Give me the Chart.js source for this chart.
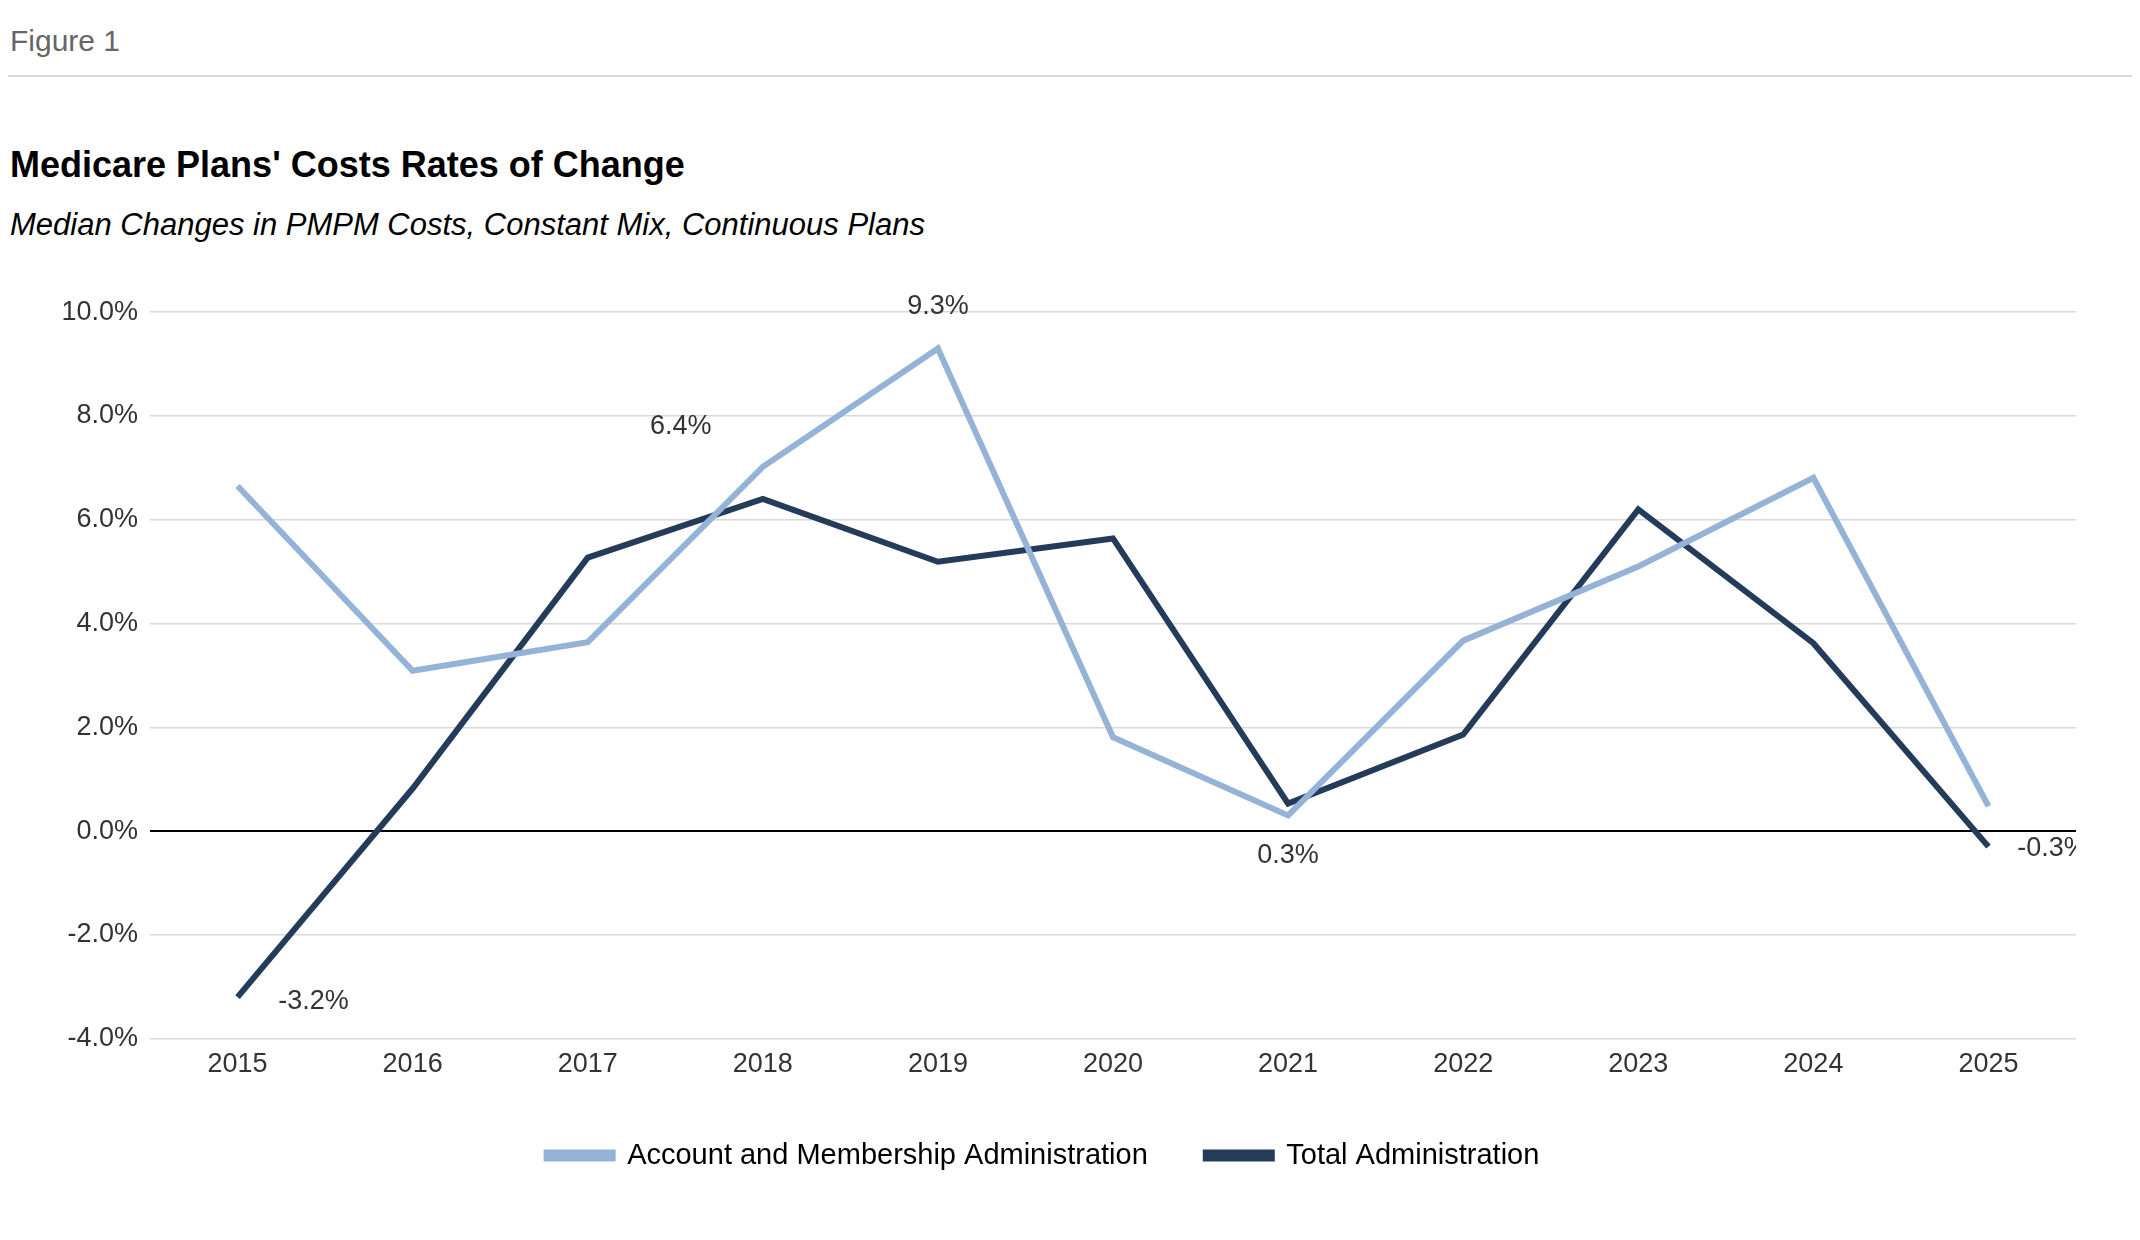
<!DOCTYPE html>
<html><head><meta charset="utf-8">
<script src="https://cdn.jsdelivr.net/npm/chart.js@4"></script>
<style>
body{margin:0;width:2140px;height:1240px;background:#fff;font-family:"Liberation Sans",Arial,sans-serif;position:relative;overflow:hidden}
#fig{position:absolute;left:10px;top:24px;font-size:30px;color:#666}
#hr{position:absolute;left:8px;right:8px;top:75px;border-top:2px solid #d9d9d9}
#title{position:absolute;left:10px;top:144px;font-size:36px;font-weight:bold;color:#000}
#sub{position:absolute;left:10px;top:207px;font-size:31px;font-style:italic;color:#000}
#wrap{position:absolute;left:10px;top:284px;width:2066px;height:916px}
</style></head><body>
<div id="fig">Figure 1</div><div id="hr"></div>
<div id="title">Medicare Plans' Costs Rates of Change</div>
<div id="sub">Median Changes in PMPM Costs, Constant Mix, Continuous Plans</div>
<div id="wrap"><canvas id="c"></canvas></div>
<script>
const years=["2015","2016","2017","2018","2019","2020","2021","2022","2023","2024","2025"];
const accountMembership=[6.65,3.09,3.64,7.02,9.3,1.81,0.3,3.67,5.1,6.81,0.48];
const totalAdmin=[-3.2,0.82,5.27,6.4,5.19,5.64,0.53,1.86,6.2,3.62,-0.3];
const yTicks=[-4,-2,0,2,4,6,8,10];
// [datasetIndex, pointIndex, dx, dy]
const annotations=[[0,4,0,-42],[1,3,-82,-72],[0,6,0,40],[1,10,64,2],[1,0,76,4]];
const labelPlugin={id:'lbl',afterDatasetsDraw(ch){
 const ctx=ch.ctx;ctx.save();ctx.font='27px "Liberation Sans",Arial';ctx.fillStyle='#333';ctx.textAlign='center';ctx.textBaseline='middle';
 annotations.forEach(([d,i,dx,dy])=>{const v=ch.data.datasets[d].data[i];const x=ch.scales.x.getPixelForValue(i);const y=ch.scales.y.getPixelForValue(v);
  ctx.fillText(v.toFixed(1)+'%',x+dx,y+dy);});ctx.restore();}};
new Chart(document.getElementById('c'),{type:'line',
 data:{labels:years,datasets:[
  {label:'Account and Membership Administration',data:accountMembership,borderColor:'#95b3d7',backgroundColor:'#95b3d7',borderWidth:6,pointRadius:0,tension:0},
  {label:'Total Administration',data:totalAdmin,borderColor:'#243c5a',backgroundColor:'#243c5a',borderWidth:6,pointRadius:0,tension:0}]},
 options:{responsive:true,maintainAspectRatio:false,animation:false,
  layout:{padding:{top:20,right:0,bottom:20}},
  plugins:{tooltip:{enabled:false},legend:{position:'bottom',labels:{boxWidth:66,boxHeight:6,padding:58,font:{size:29,family:'"Liberation Sans",Arial'},color:'#000'}}},
  scales:{x:{offset:true,grid:{display:false},border:{display:false},ticks:{font:{size:27,family:'"Liberation Sans",Arial'},color:'#333',padding:2}},
   y:{min:-4,max:10,afterBuildTicks(s){s.ticks=yTicks.map(v=>({value:v}));},afterFit(s){s.width=140;},border:{display:false},
    grid:{color:c=>c.tick&&c.tick.value===0?'#000':'#d9d9d9',lineWidth:c=>c.tick&&c.tick.value===0?2:1.5,drawTicks:false},
    ticks:{padding:12,font:{size:27,family:'"Liberation Sans",Arial'},color:'#333',callback:v=>v.toFixed(1)+'%'}}}},
 plugins:[labelPlugin]});
</script></body></html>
